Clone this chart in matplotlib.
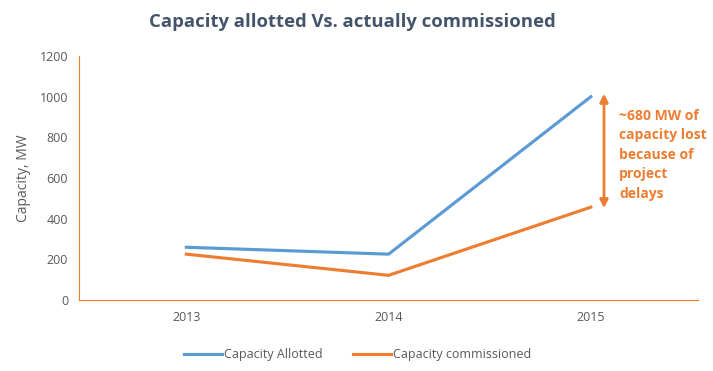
import matplotlib.pyplot as plt

years = ['2013', '2014', '2015']
allotted = [260, 226, 1000]
commissioned = [226, 122, 457]

blue = '#5B9BD5'
orange = '#ED7D31'
grey = '#595959'

plt.rcParams['font.family'] = ['Open Sans', 'DejaVu Sans']

fig = plt.figure(figsize=(7.13, 3.71), dpi=100)
ax = fig.add_axes([0.111, 0.191, 0.868, 0.658])

x = range(len(years))
ax.plot(x, allotted, color=blue, lw=2.25, label='Capacity Allotted')
ax.plot(x, commissioned, color=orange, lw=2.25, label='Capacity commissioned')

ax.set_xlim(-0.53, 2.53)
ax.set_ylim(0, 1200)
ax.set_yticks(range(0, 1201, 200))
ax.set_xticks(list(x))
ax.set_xticklabels(years)
ax.tick_params(length=0, colors=grey, labelsize=9, pad=8)
ax.set_ylabel('Capacity, MW', color=grey, fontsize=10, labelpad=6)

for s in ['top', 'right']:
    ax.spines[s].set_visible(False)
ax.spines['left'].set_color(orange)
ax.spines['bottom'].set_color(orange)

# arrow showing the gap in 2015
ax.annotate('', xy=(2.065, commissioned[2] - 5), xytext=(2.065, allotted[2] + 15),
            arrowprops=dict(arrowstyle='<|-|>', color=orange, lw=2,
                            mutation_scale=12, shrinkA=0, shrinkB=0))
ax.text(2.14, 942, '~680 MW of\ncapacity lost\nbecause of\nproject\ndelays',
        color=orange, fontsize=10, fontweight='bold', va='top', ha='left',
        linespacing=1.5)

fig.suptitle('Capacity allotted Vs. actually commissioned', x=0.494, y=0.965,
             fontsize=13.3, fontweight='bold', color='#44546A')

ax.legend(loc='upper center', bbox_to_anchor=(0.45, -0.15), ncol=2, frameon=False,
          fontsize=9, labelcolor=grey, handlelength=3.0, handletextpad=0.15,
          columnspacing=2.5)

fig.savefig('out.png', dpi=100)
